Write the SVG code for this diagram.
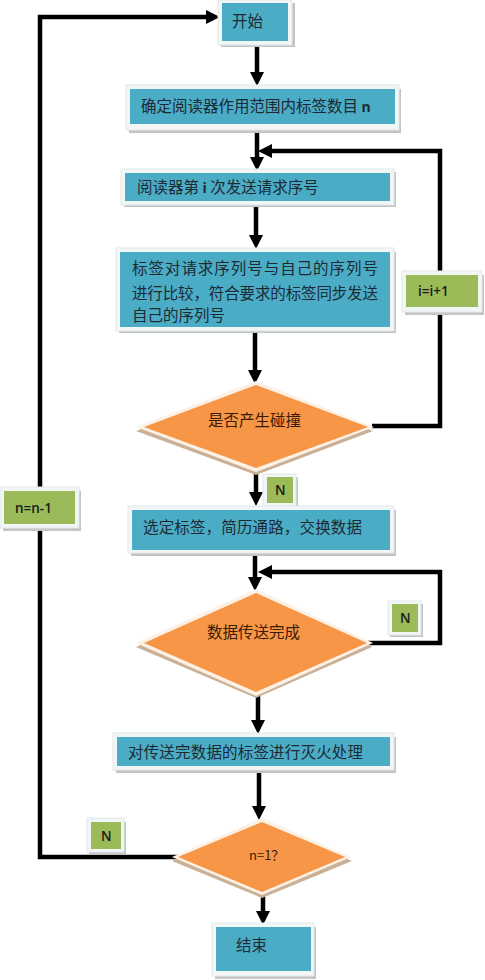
<svg xmlns="http://www.w3.org/2000/svg" width="485" height="980" viewBox="0 0 485 980">
<defs>
<marker id="ah" viewBox="0 0 14 14" refX="6" refY="7" markerWidth="14" markerHeight="14" markerUnits="userSpaceOnUse" orient="auto">
<path d="M0,0 L14,7 L0,14 Z" fill="#000"/>
</marker>
</defs>
<style>
.bg{fill:#ffffff}
.sh{fill:#c4c4c4}
.fr{fill:#f2f6f7;stroke:#e2e8ea;stroke-width:1}
.blue{fill:#4bacc6}
.green{fill:#9bbb59}
.orange{fill:#f79646}
.dfr{fill:#fdf1e6}
.dsh{fill:#c9b096}
.ln{fill:none;stroke:#000;stroke-width:4.5}
.t{font-family:"Noto Sans CJK SC","Noto Sans",sans-serif;font-size:15.5px;fill:#1d2a33}
.dt{font-family:"Noto Sans CJK SC","Noto Sans",sans-serif;font-size:15.5px;fill:#3a1c08}
.lt{font-family:"Open Sans","Liberation Sans",sans-serif;font-size:13.5px;font-weight:600;fill:#1a1a1a}
</style>
<rect class="bg" x="0" y="0" width="485" height="980"/>
<g id="connectors">
<path class="ln" d="M177,857 H40 V17 H212" marker-end="url(#ah)"/>
<path class="ln" d="M257,43 V78" marker-end="url(#ah)"/>
<path class="ln" d="M257,127 V163" marker-end="url(#ah)"/>
<path class="ln" d="M372,426 H440 V151 H266" marker-end="url(#ah)"/>
<path class="ln" d="M256,204 V241" marker-end="url(#ah)"/>
<path class="ln" d="M255,330 V376" marker-end="url(#ah)"/>
<path class="ln" d="M256,471 V498" marker-end="url(#ah)"/>
<path class="ln" d="M255,553 V583" marker-end="url(#ah)"/>
<path class="ln" d="M368,643 H440 V572 H266" marker-end="url(#ah)"/>
<path class="ln" d="M258,695 V726" marker-end="url(#ah)"/>
<path class="ln" d="M259,769 V812" marker-end="url(#ah)"/>
<path class="ln" d="M263,893 V917" marker-end="url(#ah)"/>
</g>
<g id="start">
<rect class="sh" x="221" y="3" width="74" height="44"/>
<rect class="fr" x="218" y="0" width="74" height="45"/>
<rect class="blue" x="222" y="3" width="66" height="38"/>
<text class="t" x="232" y="27">开始</text>
</g>
<g id="count">
<rect class="sh" x="129" y="89" width="272" height="44"/>
<rect class="fr" x="126" y="85" width="273" height="45"/>
<rect class="blue" x="130" y="89" width="265" height="35"/>
<text class="t" x="141" y="112">确定阅读器作用范围内标签数目 <tspan style="font-family:'Open Sans','Liberation Sans',sans-serif;font-weight:bold;font-size:14px">n</tspan></text>
</g>
<g id="send">
<rect class="sh" x="124" y="172" width="272" height="35"/>
<rect class="fr" x="121" y="169" width="273" height="36"/>
<rect class="blue" x="125" y="173" width="265" height="28"/>
<text class="t" x="137" y="193">阅读器第 <tspan style="font-family:'Open Sans','Liberation Sans',sans-serif;font-weight:bold;font-size:14px">i</tspan> 次发送请求序号</text>
</g>
<g id="compare">
<rect class="sh" x="119" y="252" width="277" height="81"/>
<rect class="fr" x="116" y="248" width="278" height="83"/>
<rect class="blue" x="120" y="252" width="270" height="75"/>
<text class="t" x="132" y="274" textLength="246" lengthAdjust="spacing">标签对请求序列号与自己的序列号</text>
<text class="t" x="132" y="299" textLength="246" lengthAdjust="spacing">进行比较，符合要求的标签同步发送</text>
<text class="t" x="132" y="321">自己的序列号</text>
</g>
<g id="inc-i">
<rect class="sh" x="405" y="275" width="79" height="40"/>
<rect class="fr" x="402" y="271" width="80" height="41"/>
<rect class="green" x="406" y="275" width="72" height="32"/>
<text class="lt" x="418" y="296">i=i+1</text>
</g>
<g id="collision">
<polygon class="dsh" points="256,385 373,431 256,475 136,431"/>
<polygon class="dfr" points="256,381 374,427 256,472 136,427"/>
<polygon class="orange" points="256,385 368,427 256,468 144,427"/>
<text class="dt" x="208" y="426">是否产生碰撞</text>
</g>
<g id="n1">
<rect class="sh" x="265" y="477" width="33" height="31"/>
<rect class="fr" x="263" y="474" width="33" height="32"/>
<rect class="green" x="267" y="477" width="26" height="26"/>
<text class="lt" x="275" y="495">N</text>
</g>
<g id="select">
<rect class="sh" x="131" y="510" width="265" height="46"/>
<rect class="fr" x="128" y="506" width="266" height="47"/>
<rect class="blue" x="132" y="510" width="258" height="40"/>
<text class="t" x="143" y="533" textLength="219" lengthAdjust="spacing">选定标签，简历通路，交换数据</text>
</g>
<g id="done">
<polygon class="dsh" points="256,592 372,647 256,698 136,647"/>
<polygon class="dfr" points="256,589 373,643 256,696 136,643"/>
<polygon class="orange" points="256,593 367,643 256,692 144,643"/>
<text class="dt" x="207" y="638">数据传送完成</text>
</g>
<g id="n2">
<rect class="sh" x="390" y="604" width="33" height="33"/>
<rect class="fr" x="388" y="601" width="33" height="34"/>
<rect class="green" x="392" y="604" width="26" height="28"/>
<text class="lt" x="400" y="623">N</text>
</g>
<g id="kill">
<rect class="sh" x="116" y="737" width="280" height="36"/>
<rect class="fr" x="113" y="733" width="281" height="37"/>
<rect class="blue" x="117" y="737" width="273" height="29"/>
<text class="t" x="128" y="758" textLength="235" lengthAdjust="spacing">对传送完数据的标签进行灭火处理</text>
</g>
<g id="dec-n">
<rect class="sh" x="3" y="491" width="78" height="40"/>
<rect class="fr" x="0" y="487" width="79" height="41"/>
<rect class="green" x="4" y="491" width="71" height="33"/>
<text class="lt" x="15" y="513">n=n-1</text>
</g>
<g id="check">
<polygon class="dsh" points="262,822 352,861 262,898 172,861"/>
<polygon class="dfr" points="262,818 351,857 262,895 172,857"/>
<polygon class="orange" points="262,822 345,857 262,892 178,857"/>
<text class="dt" x="249" y="860" style="font-size:13px">n=1？</text>
</g>
<g id="n3">
<rect class="sh" x="89" y="822" width="37" height="33"/>
<rect class="fr" x="87" y="818" width="37" height="34"/>
<rect class="green" x="91" y="822" width="30" height="27"/>
<text class="lt" x="101" y="841">N</text>
</g>
<g id="end">
<rect class="sh" x="215" y="927" width="101" height="52"/>
<rect class="fr" x="212" y="923" width="102" height="53"/>
<rect class="blue" x="216" y="927" width="95" height="44"/>
<text class="t" x="236" y="951">结束</text>
</g>
</svg>
